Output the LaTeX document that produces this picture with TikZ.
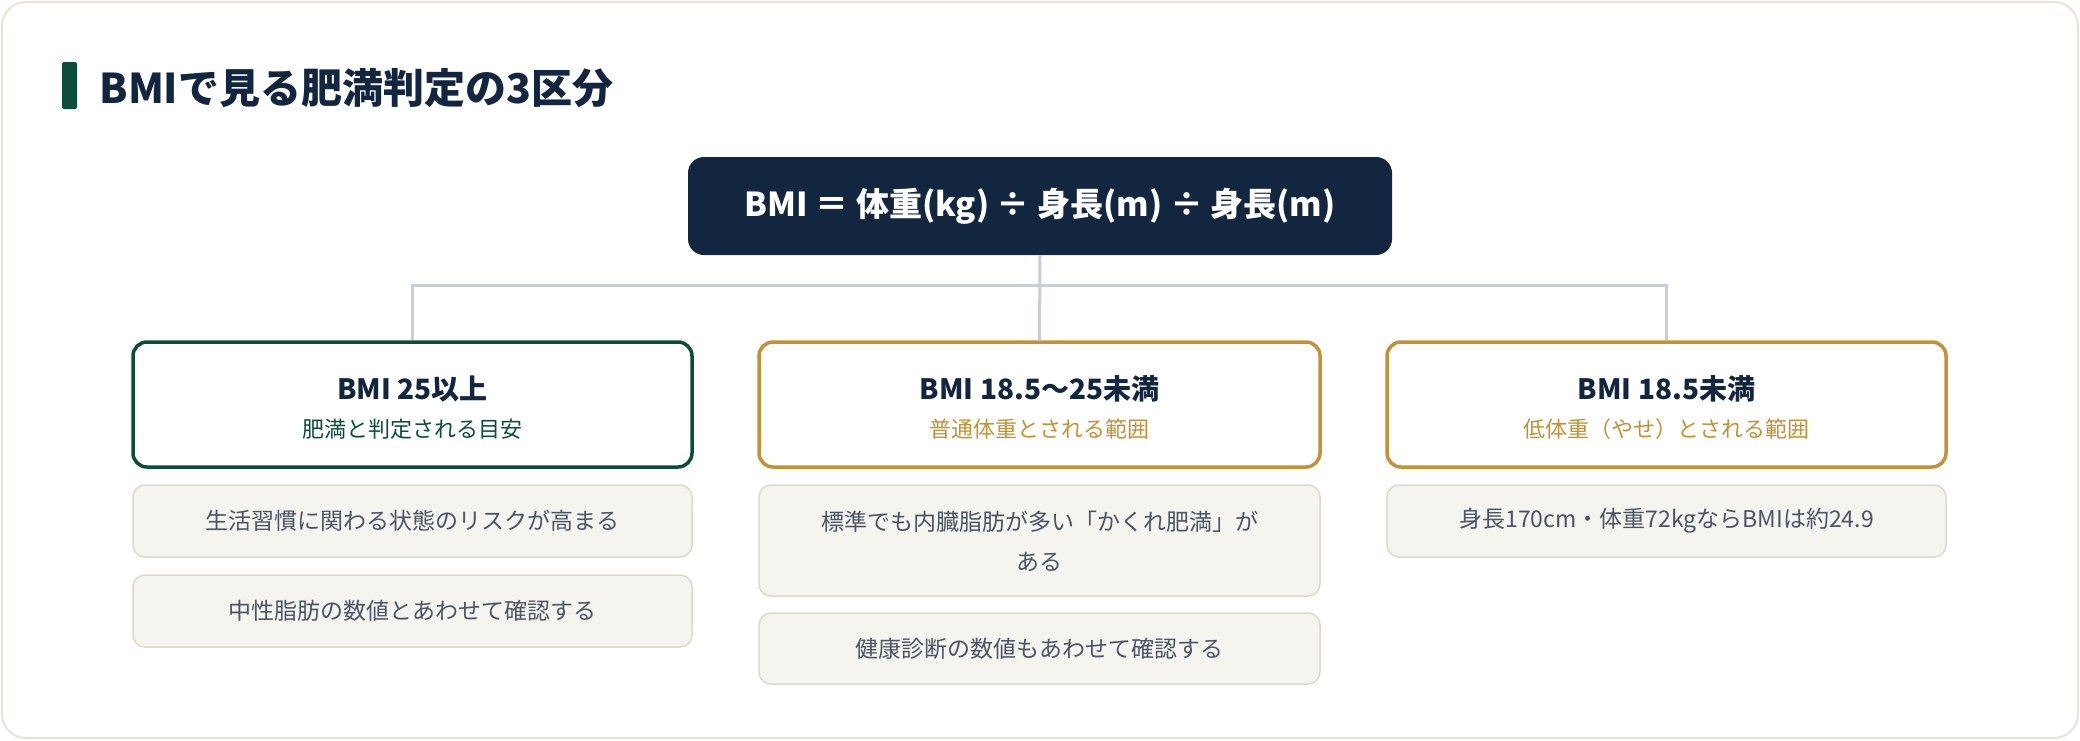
\documentclass[tikz,border=0pt]{standalone}
\usepackage{fontspec}
\setmainfont{Noto Sans CJK JP}
\definecolor{navy}{HTML}{12263F}
\definecolor{dgreen}{HTML}{0B4D3A}
\definecolor{gold}{HTML}{C49235}
\definecolor{notefill}{HTML}{F5F4EE}
\definecolor{notedraw}{HTML}{DCDACB}
\definecolor{notetext}{HTML}{4A5568}
\definecolor{linec}{HTML}{C8CED8}
\definecolor{cardline}{HTML}{E6E4D8}
\begin{document}
\begin{tikzpicture}[x=1pt,y=-1pt,
  cat/.style={draw, line width=3.5pt, rounded corners=14pt, fill=white},
  note/.style={draw=notedraw, line width=1.5pt, fill=notefill, rounded corners=12pt},
  notetxt/.style={text=notetext, font=\fontsize{23}{40}\selectfont, align=center},
  conn/.style={draw=linec, line width=3pt}]
\useasboundingbox (0,0) rectangle (2080,740);
\draw[cardline, line width=2pt, fill=white, rounded corners=24pt] (2,2) rectangle (2078,738);
% title
\fill[dgreen, rounded corners=2pt] (62,62) rectangle (77,109);
\node[anchor=west, text=navy, font=\fontsize{41}{48}\selectfont\bfseries] (title) at (96,88) {BMIで見る肥満判定の3区分};
% formula
\node[fill=navy, rounded corners=16pt, minimum width=704pt, minimum height=98pt, text=white, font=\fontsize{33}{40}\selectfont\bfseries] (f) at (1040,206) {BMI ＝ 体重(kg) ÷ 身長(m) ÷ 身長(m)};
% boxes
\node[cat, draw=dgreen, minimum width=559pt, minimum height=125pt] (a) at (412.5,404.5) {};
\node[cat, draw=gold, minimum width=561pt, minimum height=125pt] (b) at (1039.5,404.5) {};
\node[cat, draw=gold, minimum width=559pt, minimum height=125pt] (c) at (1666.5,404.5) {};
\coordinate (j) at (1040,285);
\coordinate (ja) at (a.north |- j);
\coordinate (jc) at (c.north |- j);
\draw[conn] (f.south) -- (b.north);
\draw[conn] (a.north) -- (ja) -- (jc) -- (c.north);
\node[text=navy, font=\fontsize{28}{32}\selectfont\bfseries] (at) at (412.5,389) {BMI 25以上};
\node[text=dgreen, font=\fontsize{22}{26}\selectfont] (as) at (412.5,429) {肥満と判定される目安};
\node[text=navy, font=\fontsize{28}{32}\selectfont\bfseries] (bt) at (1039.5,389) {BMI 18.5〜25未満};
\node[text=gold, font=\fontsize{22}{26}\selectfont] (bs) at (1039.5,429) {普通体重とされる範囲};
\node[text=navy, font=\fontsize{28}{32}\selectfont\bfseries] (ct) at (1666.5,389) {BMI 18.5未満};
\node[text=gold, font=\fontsize{22}{26}\selectfont] (cs) at (1666.5,429) {低体重（やせ）とされる範囲};
% notes
\draw[note] (133,485) rectangle (692,557);
\node[notetxt] (n1) at (412.5,521) {生活習慣に関わる状態のリスクが高まる};
\draw[note] (133,575) rectangle (692,647);
\node[notetxt] (n2) at (412.5,611) {中性脂肪の数値とあわせて確認する};
\draw[note] (759,485) rectangle (1320,596);
\node[notetxt] (n3) at (1039.5,541) {標準でも内臓脂肪が多い「かくれ肥満」が\\ある};
\draw[note] (759,613) rectangle (1320,684);
\node[notetxt] (n4) at (1039.5,648.5) {健康診断の数値もあわせて確認する};
\draw[note] (1387,485) rectangle (1946,557);
\node[notetxt] (n5) at (1666.5,521) {身長170cm・体重72kgならBMIは約24.9};
\end{tikzpicture}
\end{document}
